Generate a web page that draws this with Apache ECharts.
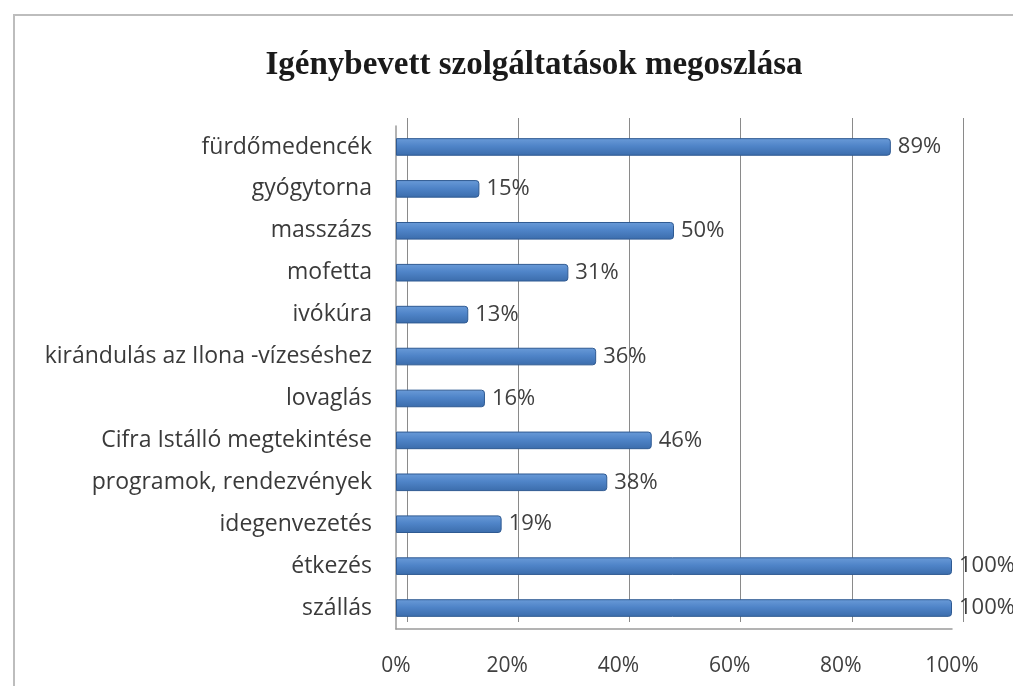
<!DOCTYPE html>
<html><head><meta charset="utf-8">
<script src="https://cdn.jsdelivr.net/npm/echarts@6/dist/echarts.min.js"></script>
<style>html,body{margin:0;padding:0;background:#fff}#c{width:1013px;height:686px}</style>
</head><body><div id="c"></div>
<script>
const categories = ["fürdőmedencék","gyógytorna","masszázs","mofetta","ivókúra","kirándulás az Ilona -vízeséshez","lovaglás","Cifra Istálló megtekintése","programok, rendezvények","idegenvezetés","étkezés","szállás"];
const values = [89,15,50,31,13,36,16,46,38,19,100,100];
const tickLabels = ["0%","20%","40%","60%","80%","100%"];

const font = 'Open Sans';
const chart = echarts.init(document.getElementById('c'));
chart.setOption({
  animation:false,
  backgroundColor:'#fff',
  title:{text:'Igénybevett szolgáltatások megoszlása',left:529,top:44,textAlign:'center',
    textStyle:{fontFamily:'Liberation Serif',fontWeight:'bold',fontSize:33,color:'#1a1a1a'}},
  graphic:[{type:'rect',shape:{x:14,y:15,width:1020,height:700},style:{fill:'none',stroke:'#bdbdbd',lineWidth:2}}],
  grid:[{left:396,right:61,top:126,bottom:57},{left:407,right:50,top:118,bottom:64}],
  xAxis:[{type:'value',min:0,max:100,interval:20,gridIndex:0,
    axisLabel:{formatter:v=>tickLabels[v/20],fontFamily:font,fontSize:21,color:'#404040',margin:27},
    splitLine:{show:false},
    axisLine:{show:true,lineStyle:{color:'#9a9a9a',width:1.5}},axisTick:{show:false}},
   {type:'value',min:0,max:100,interval:20,gridIndex:1,
    axisLabel:{show:false},axisLine:{show:false},axisTick:{show:false},
    splitLine:{show:true,lineStyle:{color:'#8a8a8a',width:1}}}],
  yAxis:[{type:'category',inverse:true,data:categories,gridIndex:0,
    axisLabel:{fontFamily:font,fontSize:23,color:'#3a3a3a',margin:24},
    axisLine:{show:true,lineStyle:{color:'#9a9a9a',width:1.5}},axisTick:{show:false}},
   {type:'category',inverse:true,data:categories,gridIndex:1,show:false}],
  series:[{type:'bar',data:values,barWidth:'42%',xAxisIndex:0,yAxisIndex:0,
    itemStyle:{color:new echarts.graphic.LinearGradient(0,0,0,1,[{offset:0,color:'#6a9bd8'},{offset:0.45,color:'#4f84c8'},{offset:1,color:'#3b6cab'}]),
      borderColor:'#2f5a92',borderWidth:1,borderRadius:[0,3,3,0]},
    label:{show:true,position:'right',distance:7,formatter:p=>p.value+'%',fontFamily:font,fontSize:22,color:'#404040'}}]
});
</script></body></html>
